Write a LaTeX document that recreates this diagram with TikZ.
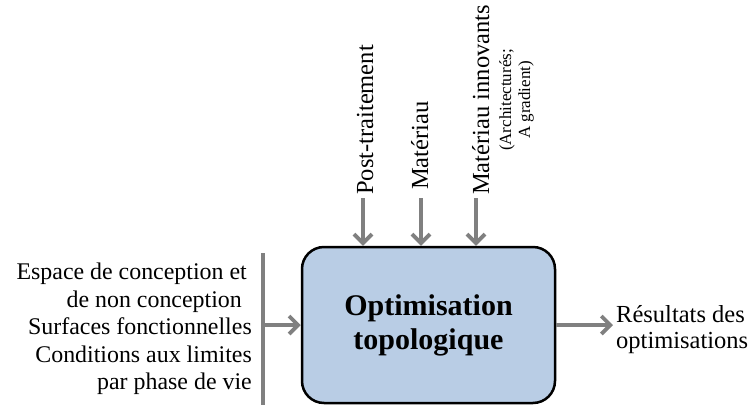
\documentclass[tikz,border=0pt]{standalone}
\usepackage{fontspec}
\setmainfont{Liberation Serif}
\usetikzlibrary{arrows.meta}
\definecolor{boxfill}{HTML}{B9CDE5}
\definecolor{arrgray}{HTML}{808080}
\begin{document}
\begin{tikzpicture}[x=1pt,y=-1pt,
  arr/.style={draw=arrgray, line width=3.8pt, -{Straight Barb[length=9pt,width=18pt]}},
  barline/.style={draw=arrgray, line width=3.8pt},
  lbl/.style={font=\fontsize{24.5}{27}\selectfont, inner sep=0pt},
  smalllbl/.style={font=\fontsize{17}{20}\selectfont, inner sep=0pt},
  mainbox/.style={draw=black, line width=2.5pt, fill=boxfill, rounded corners=22pt,
    minimum width=253pt, minimum height=156pt, align=center,
    font=\fontsize{30}{34}\selectfont\bfseries}]
\useasboundingbox (0,0) rectangle (748,405);
\node[mainbox] (box) at (428.5,325) {Optimisation\\topologique};
% left input
\node[lbl, font=\fontsize{23.9}{27.5}\selectfont, align=right, anchor=east] (inp) at (252,329)
  {Espace de conception et\hspace*{5pt}\null\\de non conception\hspace*{10pt}\null\\Surfaces fonctionnelles\\Conditions aux limites\\par phase de vie};
\coordinate (bartop) at (263,253);
\coordinate (barbot) at (263,405);
\draw[barline] (bartop) -- (barbot);
\coordinate (inarr) at (263,325);
\draw[arr] (inarr) -- (inarr -| box.west);
% output
\node[lbl, font=\fontsize{24.5}{26}\selectfont, align=left, anchor=west] (res) at (616,330)
  {Résultats des\\optimisations};
\coordinate (outend) at (613,325);
\draw[arr] (box.east) -- (box.east -| outend);
% top controls
\coordinate (a1) at (363,198);
\coordinate (a2) at (421,198);
\coordinate (a3) at (476,198);
\draw[arr] (a1) -- (a1 |- box.north);
\draw[arr] (a2) -- (a2 |- box.north);
\draw[arr] (a3) -- (a3 |- box.north);
\node[lbl, rotate=90, anchor=base west] (l1) at (373,195) {Post-traitement};
\node[lbl, rotate=90, anchor=base west] (l2) at (428,190) {Matériau};
\node[lbl, rotate=90, anchor=base west] (l3) at (489,195) {Matériau innovants};
\node[smalllbl, rotate=90, anchor=base] (l4) at (511,100) {(Architecturés;};
\node[smalllbl, rotate=90, anchor=base] (l5) at (530,100) {A gradient)};
\end{tikzpicture}
\end{document}
